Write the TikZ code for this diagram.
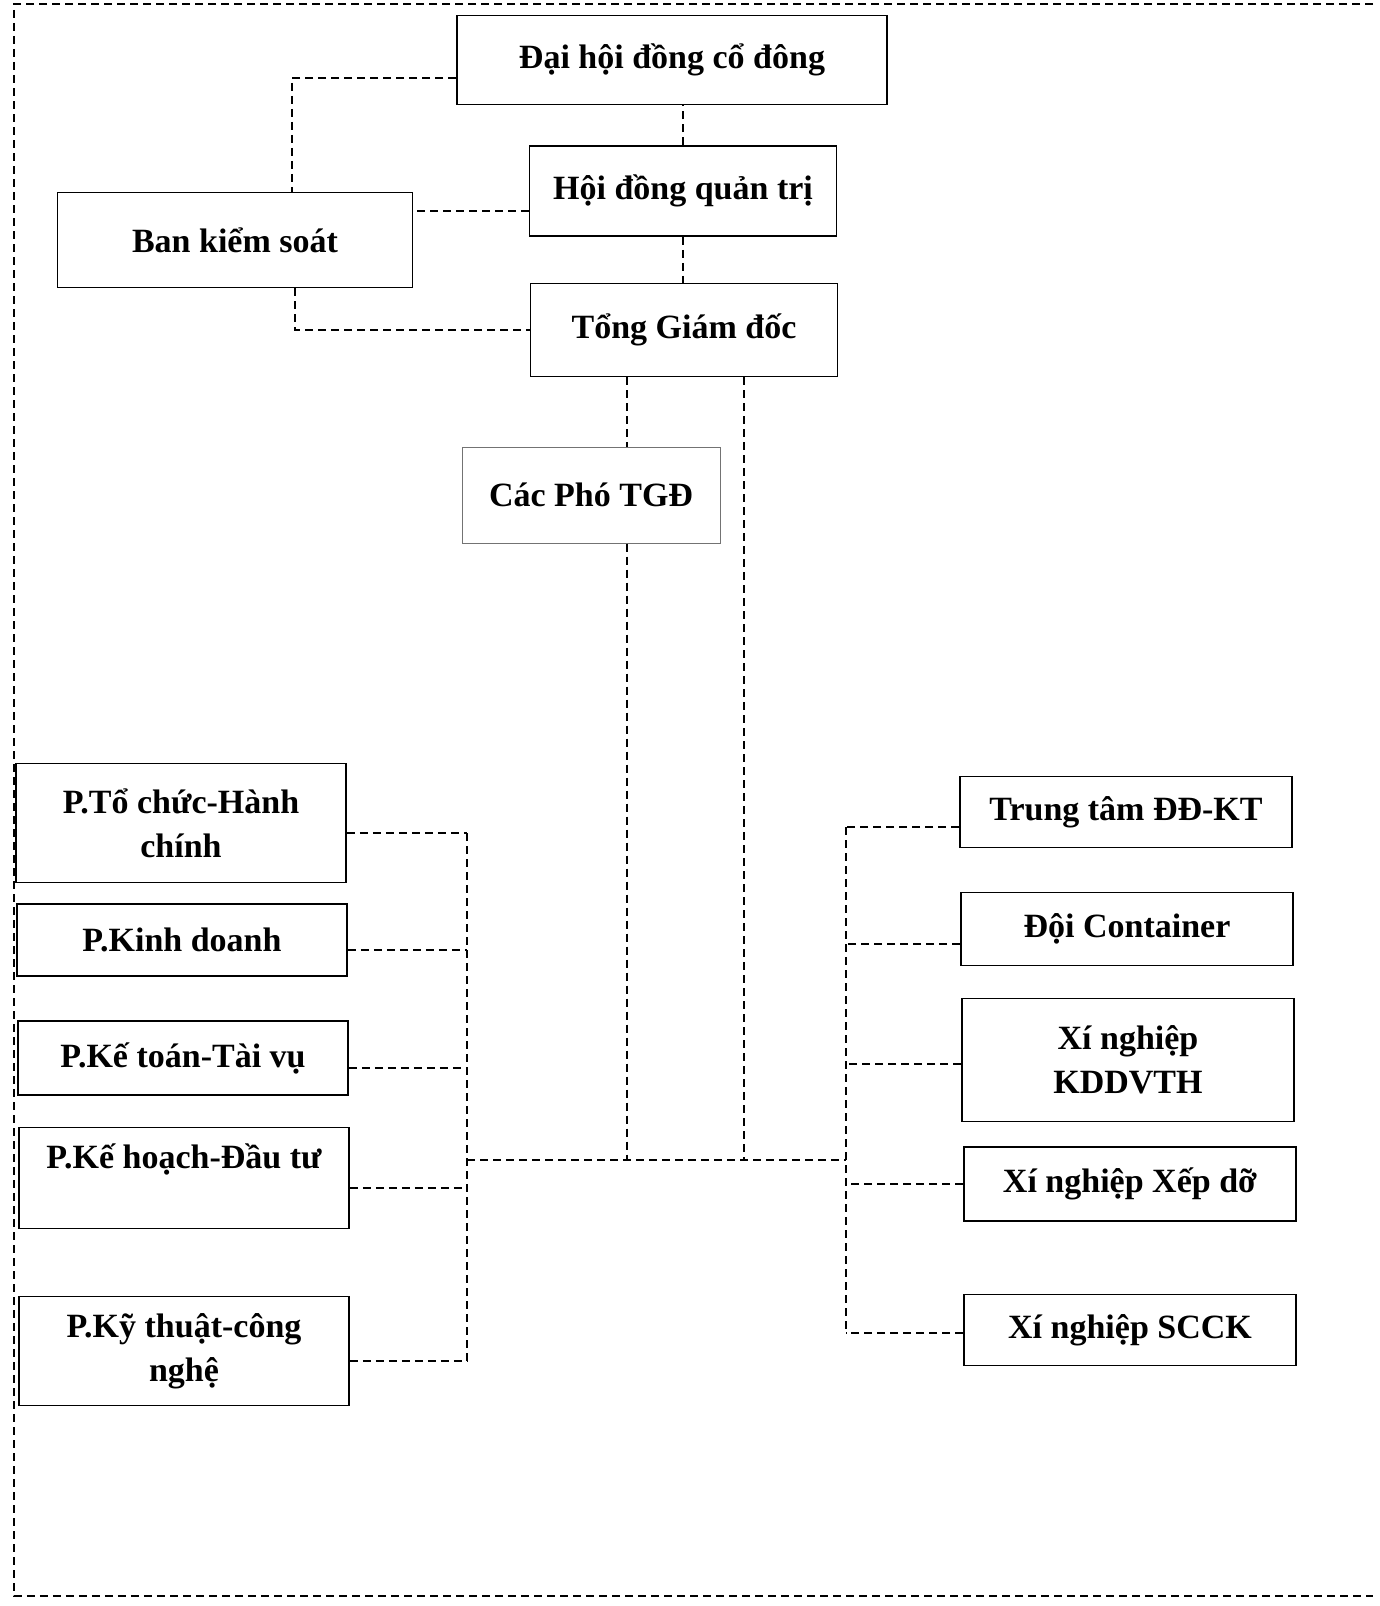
\documentclass[tikz,border=0pt]{standalone}
\usepackage{fontspec}
\setmainfont{Liberation Serif}
\usepackage{tikz}
\tikzset{
  unit/.style={draw=black, line width=1.8pt, align=center, inner sep=0pt,
    font=\bfseries\fontsize{34}{44}\selectfont},
  link/.style={draw=black, line width=1.5pt, dash pattern=on 8pt off 5pt},
}

\begin{document}
\begin{tikzpicture}[x=1pt,y=-1pt]
    \useasboundingbox (0,0) rectangle (1379,1606);
    \draw[link] (1373,4) -| (14,1596) -- (1373,1596);

    \node[unit, minimum width=430, minimum height=89] (dhd) at (672,60) {Đại hội đồng cổ đông};
    \node[unit, minimum width=307, minimum height=90] (hdqt) at (683,191) {Hội đồng quản trị};
    \node[unit, minimum width=355, minimum height=95] (bks) at (235,240) {Ban kiểm soát};
    \node[unit, minimum width=307, minimum height=93] (tgd) at (684,330) {Tổng Giám đốc};
    \node[unit, draw=black!55, line width=1pt, minimum width=258, minimum height=96] (pho) at (591,495) {Các Phó TGĐ};

    \node[unit, minimum width=330, minimum height=119] (tchc) at (181,823) {P.Tổ chức-Hành\\chính};
    \node[unit, minimum width=330, minimum height=72] (kd) at (182,940) {P.Kinh doanh};
    \node[unit, minimum width=330, minimum height=74] (kt) at (183,1058) {P.Kế toán-Tài vụ};
    \node[unit, minimum width=330, minimum height=101] (khdt) at (184,1178) {P.Kế hoạch-Đầu tư\\\mbox{}};
    \node[unit, minimum width=330, minimum height=109] (ktcn) at (184,1351) {P.Kỹ thuật-công\\nghệ};

    \node[unit, minimum width=332, minimum height=71] (ttdd) at (1126,812) {Trung tâm ĐĐ-KT};
    \node[unit, minimum width=332, minimum height=73] (doi) at (1127,929) {Đội Container};
    \node[unit, minimum width=332, minimum height=123] (kddvth) at (1128,1060) {Xí nghiệp\\KDDVTH};
    \node[unit, minimum width=332, minimum height=74] (xepdo) at (1130,1184) {Xí nghiệp Xếp dỡ};
    \node[unit, minimum width=332, minimum height=71] (scck) at (1130,1330) {Xí nghiệp SCCK};

    \coordinate (busL) at (467,1160);
    \coordinate (busR) at (846,1160);

    \draw[link] (dhd.west |- 0,78) -| (bks.north -| 292,0);
    \draw[link] (hdqt.north) -- (hdqt.north |- dhd.south);
    \draw[link] (hdqt.west |- 0,211) -- (bks.east |- 0,211);
    \draw[link] (hdqt.south) -- (hdqt.south |- tgd.north);
    \draw[link] (bks.south -| 295,0) |- (tgd.west);
    \draw[link] (tgd.south -| 627,0) -- (pho.north -| 627,0);
    \draw[link] (pho.south -| 627,0) -- (busL -| 627,0);
    \draw[link] (tgd.south -| 744,0) -- (busL -| 744,0);
    \draw[link] (busL) -- (busR);

    \draw[link] ([yshift=-10pt]tchc.east -| busL) -- ([yshift=-10pt]ktcn.east -| busL);
    \foreach \b in {tchc,kd,kt,khdt,ktcn}
        \draw[link] ([yshift=-10pt]\b.east) -- ([yshift=-10pt]\b.east -| busL);

    \draw[link] ([yshift=-15pt]ttdd.west -| busR) -- ([yshift=-3pt]scck.west -| busR);
    \foreach \b/\s in {ttdd/15,doi/15,kddvth/4,xepdo/0,scck/3}
        \draw[link] ([yshift=-\s pt]\b.west) -- ([yshift=-\s pt]\b.west -| busR);
\end{tikzpicture}
\end{document}
